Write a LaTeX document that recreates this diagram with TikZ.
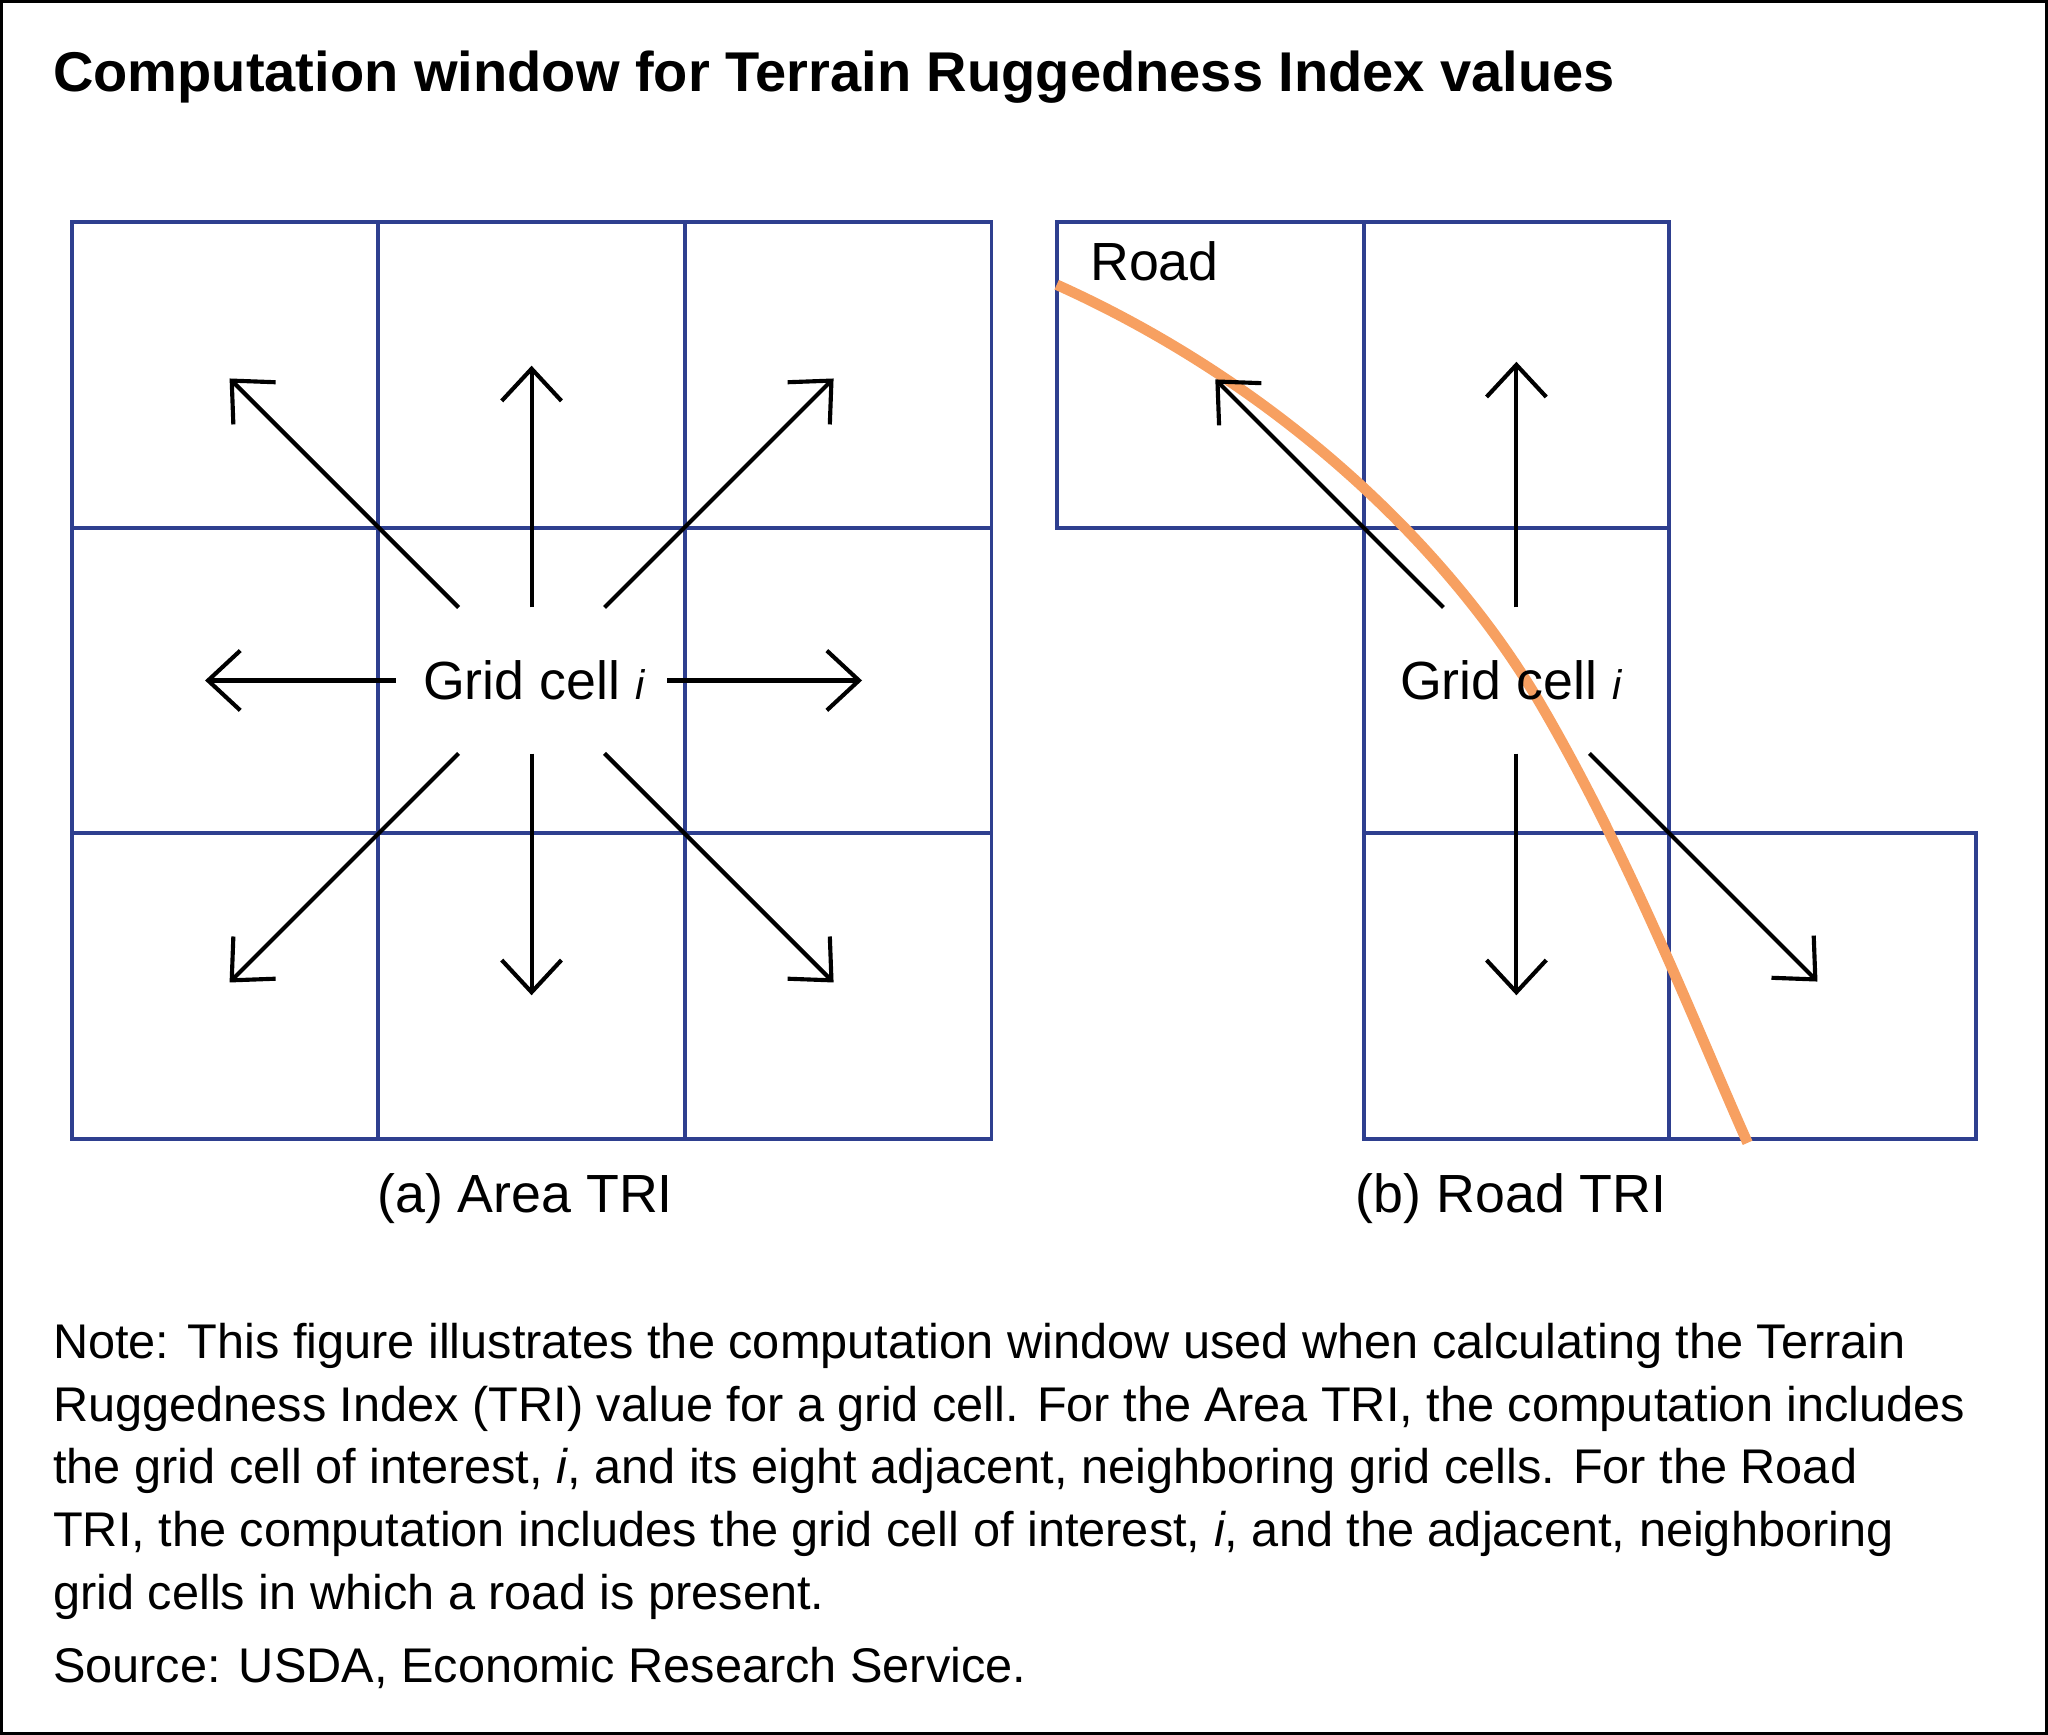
\documentclass[tikz,border=0pt]{standalone}
\usepackage{fontspec}
\setmainfont{Liberation Sans}
\usetikzlibrary{arrows.meta,calc}
\definecolor{gridblue}{HTML}{2E3F8F}
\definecolor{roadorange}{HTML}{F7A061}
\begin{document}
\begin{tikzpicture}[x=0.01cm,y=-0.01cm,
    cell/.style={draw=gridblue, line width=0.85pt},
    arr/.style={-{Straight Barb[length=7pt,width=13pt]}, line width=0.9pt},
    lbl/.style={font=\fontsize{11.7}{14}\selectfont, inner sep=0pt},
    note/.style={font=\fontsize{10.6}{13}\selectfont, anchor=base west, inner sep=0pt}]
\useasboundingbox (0,0) rectangle (1568,1328);
\draw[line width=0.6pt] (1,1) rectangle (1567,1327);
\node[anchor=base west, inner sep=0pt, font=\fontsize{12.2}{14}\selectfont\bfseries] (title) at (40,70)
  {Computation window for Terrain Ruggedness Index values};
% (a) area window
\foreach \i in {0,1,2}
  \foreach \j in {0,1,2}
    \draw[cell] ({55+234.7*\i},{170+234*\j}) rectangle ++(234.7,234);
\node[lbl] (ca) at (409,521) {Grid cell \textit{\small i}};
\foreach \a/\s/\e in {90/56/241, 270/56/241, 0/104/253, 180/104/250,
                      45/79/327, 135/79/327, 225/79/327, 315/79/327}
  \draw[arr] ($(407,521)+(\a:\s)$) -- ($(407,521)+(\a:\e)$);
\node[lbl] (capa) at (402,918) {(a) Area TRI};
% (b) road window
\draw[cell] (809,170) rectangle (1044,404);
\foreach \j in {0,1,2}
  \draw[cell] (1044,{170+234*\j}) rectangle ++(234,234);
\draw[cell] (1278,638) rectangle (1513,872);
\draw[roadorange, line width=2.3pt] (809,218) .. controls (980,295) and (1110,420) .. (1180,540)
  .. controls (1250,660) and (1300,790) .. (1338,875);
\node[lbl, anchor=west] (road) at (834,200) {Road};
\node[lbl] (cb) at (1157,521) {Grid cell \textit{\small i}};
\foreach \a/\s/\e in {90/56/241, 270/56/244, 225/79/326, 45/79/326}
  \draw[arr] ($(1161,521)+(\a:\s)$) -- ($(1161,521)+(\a:\e)$);
\node[lbl] (capb) at (1157,918) {(b) Road TRI};
% note
\node[note] (n1) at (40,1040) {Note: This figure illustrates the computation window used when calculating the Terrain};
\node[note] (n2) at (40,1088) {Ruggedness Index (TRI) value for a grid cell. For the Area TRI, the computation includes};
\node[note] (n3) at (40,1136) {the grid cell of interest, \textit{i}, and its eight adjacent, neighboring grid cells. For the Road};
\node[note] (n4) at (40,1184) {TRI, the computation includes the grid cell of interest, \textit{i}, and the adjacent, neighboring};
\node[note] (n5) at (40,1232) {grid cells in which a road is present.};
\node[note] (src) at (40,1288) {Source: USDA, Economic Research Service.};
\end{tikzpicture}
\end{document}
